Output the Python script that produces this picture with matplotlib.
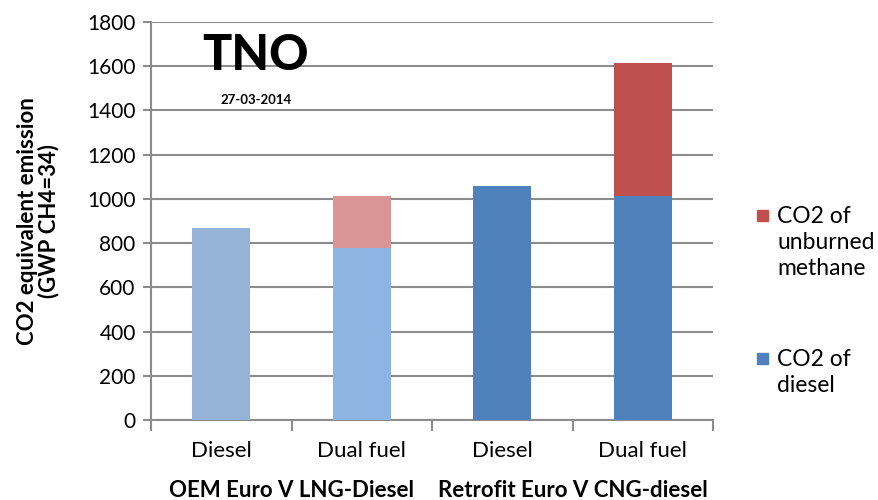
import numpy as np
import matplotlib
matplotlib.use("Agg")
import matplotlib.pyplot as plt
from matplotlib.patches import Rectangle

plt.rcParams['font.family'] = ['Lato', 'DejaVu Sans']

categories = ['Diesel', 'Dual fuel', 'Diesel', 'Dual fuel']
groups = ['OEM Euro V LNG-Diesel', 'Retrofit Euro V CNG-diesel']
diesel = [870, 778, 1058, 1012]
methane = [0, 236, 0, 602]
diesel_colors = ['#95B3D7', '#8DB4E2', '#4F81BD', '#4F81BD']
methane_colors = ['#DA9694', '#DA9694', '#C0504D', '#C0504D']
legend_labels = ['CO2 of\nunburned\nmethane', 'CO2 of\ndiesel']
legend_colors = ['#C0504D', '#4F81BD']

fig = plt.figure(figsize=(8.79, 5.0), dpi=100)
ax = fig.add_axes([0.1718, 0.16, 0.6394, 0.796])

x = np.arange(len(categories))
ax.bar(x, diesel, width=0.41, color=diesel_colors, zorder=3)
ax.bar(x, methane, width=0.41, bottom=diesel, color=methane_colors, zorder=3)

ax.set_xlim(-0.5, 3.5)
ax.set_ylim(0, 1800)
ax.set_yticks(np.arange(0, 1801, 200))
ax.yaxis.grid(True, color='#8c8c8c', linewidth=1.5, zorder=0)
ax.set_axisbelow(True)

ax.set_xticks(np.arange(-0.5, 4, 1))
ax.set_xticklabels([])
ax.set_xticks(x, minor=True)
ax.set_xticklabels(categories, minor=True, fontsize=16)
ax.tick_params(axis='x', which='major', length=8, width=1.5, color='#8c8c8c')
ax.tick_params(axis='x', which='minor', length=0, pad=15)
ax.tick_params(axis='y', length=6, width=1.5, color='#8c8c8c', labelsize=15, pad=5)

for s in ['top', 'right']:
    ax.spines[s].set_visible(False)
for s in ['left', 'bottom']:
    ax.spines[s].set_color('#8c8c8c')
    ax.spines[s].set_linewidth(1.5)

ax.set_ylabel('CO2 equivalent emission\n(GWP CH4=34)', fontsize=16, fontweight='bold',
              linespacing=1.0)
ax.yaxis.set_label_coords(-0.163, 0.5)

for i, g in enumerate(groups):
    ax.text(0.5 + 2 * i, -0.178, g, transform=ax.get_xaxis_transform(),
            ha='center', va='center', fontsize=16, fontweight='bold')

# logo and date
fig.text(0.291, 0.888, 'TNO', fontsize=35, fontweight='black', ha='center', va='center')
fig.text(0.291, 0.8, '27-03-2014', fontsize=9.5, fontweight='bold', ha='center', va='center')

# legend drawn by hand so the square sits at the first text line
leg_y = [0.57, 0.284]
for lab, col, y in zip(legend_labels, legend_colors, leg_y):
    fig.add_artist(Rectangle((0.861, y - 0.011), 0.0125, 0.022, color=col,
                             transform=fig.transFigure))
    fig.text(0.884, y + 0.018, lab, fontsize=16.5, ha='left', va='top', linespacing=1.3)

fig.savefig('out.png', dpi=100)
